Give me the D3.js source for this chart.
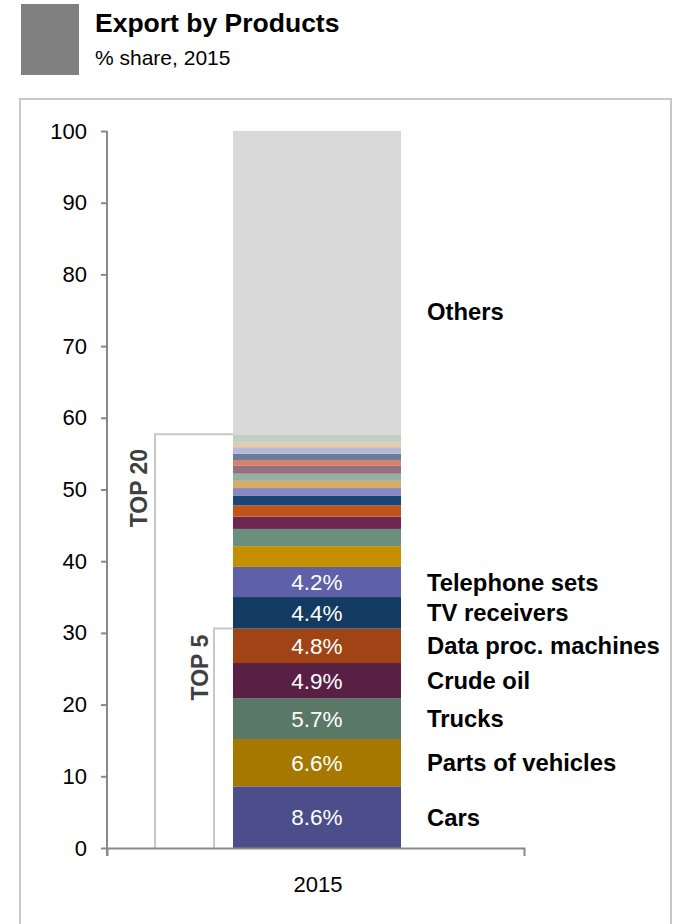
<!DOCTYPE html>
<html>
<head>
<meta charset="utf-8">
<script src="https://cdnjs.cloudflare.com/ajax/libs/d3/7.8.5/d3.min.js"></script>
<style>
  html, body { margin: 0; padding: 0; background: #fff; }
  svg { display: block; font-family: "Liberation Sans", Arial, sans-serif; }
</style>
</head>
<body>
<svg id="chart" width="673" height="924"></svg>
<script>
// ---- data ----
const categories = ["2015"];
const products = [
  "Cars", "Parts of vehicles", "Trucks", "Crude oil", "Data proc. machines",
  "TV receivers", "Telephone sets",
  "Product 8", "Product 9", "Product 10", "Product 11", "Product 12", "Product 13",
  "Product 14", "Product 15", "Product 16", "Product 17", "Product 18", "Product 19",
  "Product 20", "Product 21", "Others"
];
const shares = [
  8.6, 6.6, 5.7, 4.9, 4.8, 4.4, 4.2,
  2.9, 2.4, 1.7, 1.6, 1.3, 1.1, 1.0, 1.0, 1.1, 0.8, 0.9, 0.9, 0.7, 1.1,
  42.3
];
const colors = [
  "#4b4e8b", "#a67800", "#5a7866", "#5a1f45", "#a04415", "#133a60", "#5e60a8",
  "#c49000", "#6b8f7e", "#6d2751", "#c0541a", "#1a4676", "#8888c4", "#d9ad68",
  "#93b0a0", "#93707f", "#d5806b", "#6b7c9b", "#b8b8d8", "#e5cca8", "#c2cfc6",
  "#d9d9d9"
];
const labelled = ["Cars", "Parts of vehicles", "Trucks", "Crude oil", "Data proc. machines",
                  "TV receivers", "Telephone sets", "Others"];
const yTicks = [0, 10, 20, 30, 40, 50, 60, 70, 80, 90, 100];
const othersLabelValue = 74.8;

// ---- layout ----
const svg = d3.select("#chart");

// header
svg.append("rect").attr("x", 21).attr("y", 4).attr("width", 58).attr("height", 71).attr("fill", "#808080");
svg.append("text").attr("x", 95).attr("y", 32).attr("font-size", 26.5).attr("font-weight", "bold")
  .attr("fill", "#000").text("Export by Products");
svg.append("text").attr("x", 95).attr("y", 65).attr("font-size", 21)
  .attr("fill", "#000").text("% share, 2015");

// frame
svg.append("rect").attr("x", 20).attr("y", 99).attr("width", 651).attr("height", 900)
  .attr("fill", "none").attr("stroke", "#c8c8c8").attr("stroke-width", 2);

const x = d3.scaleBand().domain(categories).range([107, 524]).padding(0.4256).align(0.506);
const y = d3.scaleLinear().domain([0, 100]).range([848, 131]);

// stacked data
let cum = 0;
const segs = products.map((p, i) => {
  const s = { name: p, value: shares[i], color: colors[i], y0: cum, y1: cum + shares[i], idx: i };
  cum += shares[i];
  return s;
});

const barX = x("2015"), bw = x.bandwidth();
svg.append("g").selectAll("rect").data(segs).join("rect")
  .attr("x", barX).attr("width", bw)
  .attr("y", d => y(d.y1)).attr("height", d => y(d.y0) - y(d.y1))
  .attr("fill", d => d.color);

// percentage labels for top 7
svg.append("g").selectAll("text").data(segs.filter(d => d.idx < 7)).join("text")
  .attr("x", barX + bw / 2).attr("y", d => y((d.y0 + d.y1) / 2))
  .attr("dy", "0.36em").attr("text-anchor", "middle")
  .attr("font-size", 22.5).attr("fill", "#fff")
  .text(d => d.value.toFixed(1) + "%");

// category labels
svg.append("g").selectAll("text").data(segs.filter(d => labelled.includes(d.name))).join("text")
  .attr("x", 427)
  .attr("y", d => d.name === "Others" ? y(othersLabelValue) : y((d.y0 + d.y1) / 2))
  .attr("dy", "0.36em").attr("font-size", 23.8).attr("font-weight", "bold").attr("fill", "#000")
  .text(d => d.name);

// brackets
const top5 = d3.sum(shares.slice(0, 5));
const top20 = d3.sum(shares.slice(0, shares.length - 1));
const bracket = svg.append("g").attr("fill", "none").attr("stroke", "#c8c8c8").attr("stroke-width", 2);
bracket.append("path").attr("d", `M155,${y(0)}V${y(top20)}H${barX}`);
bracket.append("path").attr("d", `M214,${y(0)}V${y(top5)}H${barX}`);

svg.append("text").attr("transform", `translate(139,${(y(top20) + y(0)) / 2 - 153}) rotate(-90)`)
  .attr("text-anchor", "middle").attr("dy", "0.36em")
  .attr("font-size", 23).attr("font-weight", "bold").attr("fill", "#404040").text("TOP 20");
svg.append("text").attr("transform", `translate(200,${y(top5) + 39}) rotate(-90)`)
  .attr("text-anchor", "middle").attr("dy", "0.36em")
  .attr("font-size", 23).attr("font-weight", "bold").attr("fill", "#404040").text("TOP 5");

// axes
const yAxis = svg.append("g").attr("transform", "translate(107,0)")
  .call(d3.axisLeft(y).tickValues(yTicks).tickSize(6).tickSizeOuter(0).tickPadding(14));
yAxis.selectAll("text").attr("font-size", 22).attr("fill", "#000").attr("font-family", "Liberation Sans, Arial, sans-serif");
yAxis.selectAll("line, path").attr("stroke", "#898989").attr("stroke-width", 2);
yAxis.select(".domain").attr("d", `M0,${y(0) + 8}V${y(100)}`);

const xAxis = svg.append("g").attr("transform", `translate(0,${y(0)})`)
  .call(d3.axisBottom(x).tickSizeInner(0).tickSizeOuter(8).tickPadding(28));
xAxis.selectAll("text").attr("font-size", 22).attr("fill", "#000").attr("font-family", "Liberation Sans, Arial, sans-serif");
xAxis.selectAll("path").attr("stroke", "#898989").attr("stroke-width", 2);
xAxis.selectAll(".tick text").attr("x", 1);
</script>
</body>
</html>
